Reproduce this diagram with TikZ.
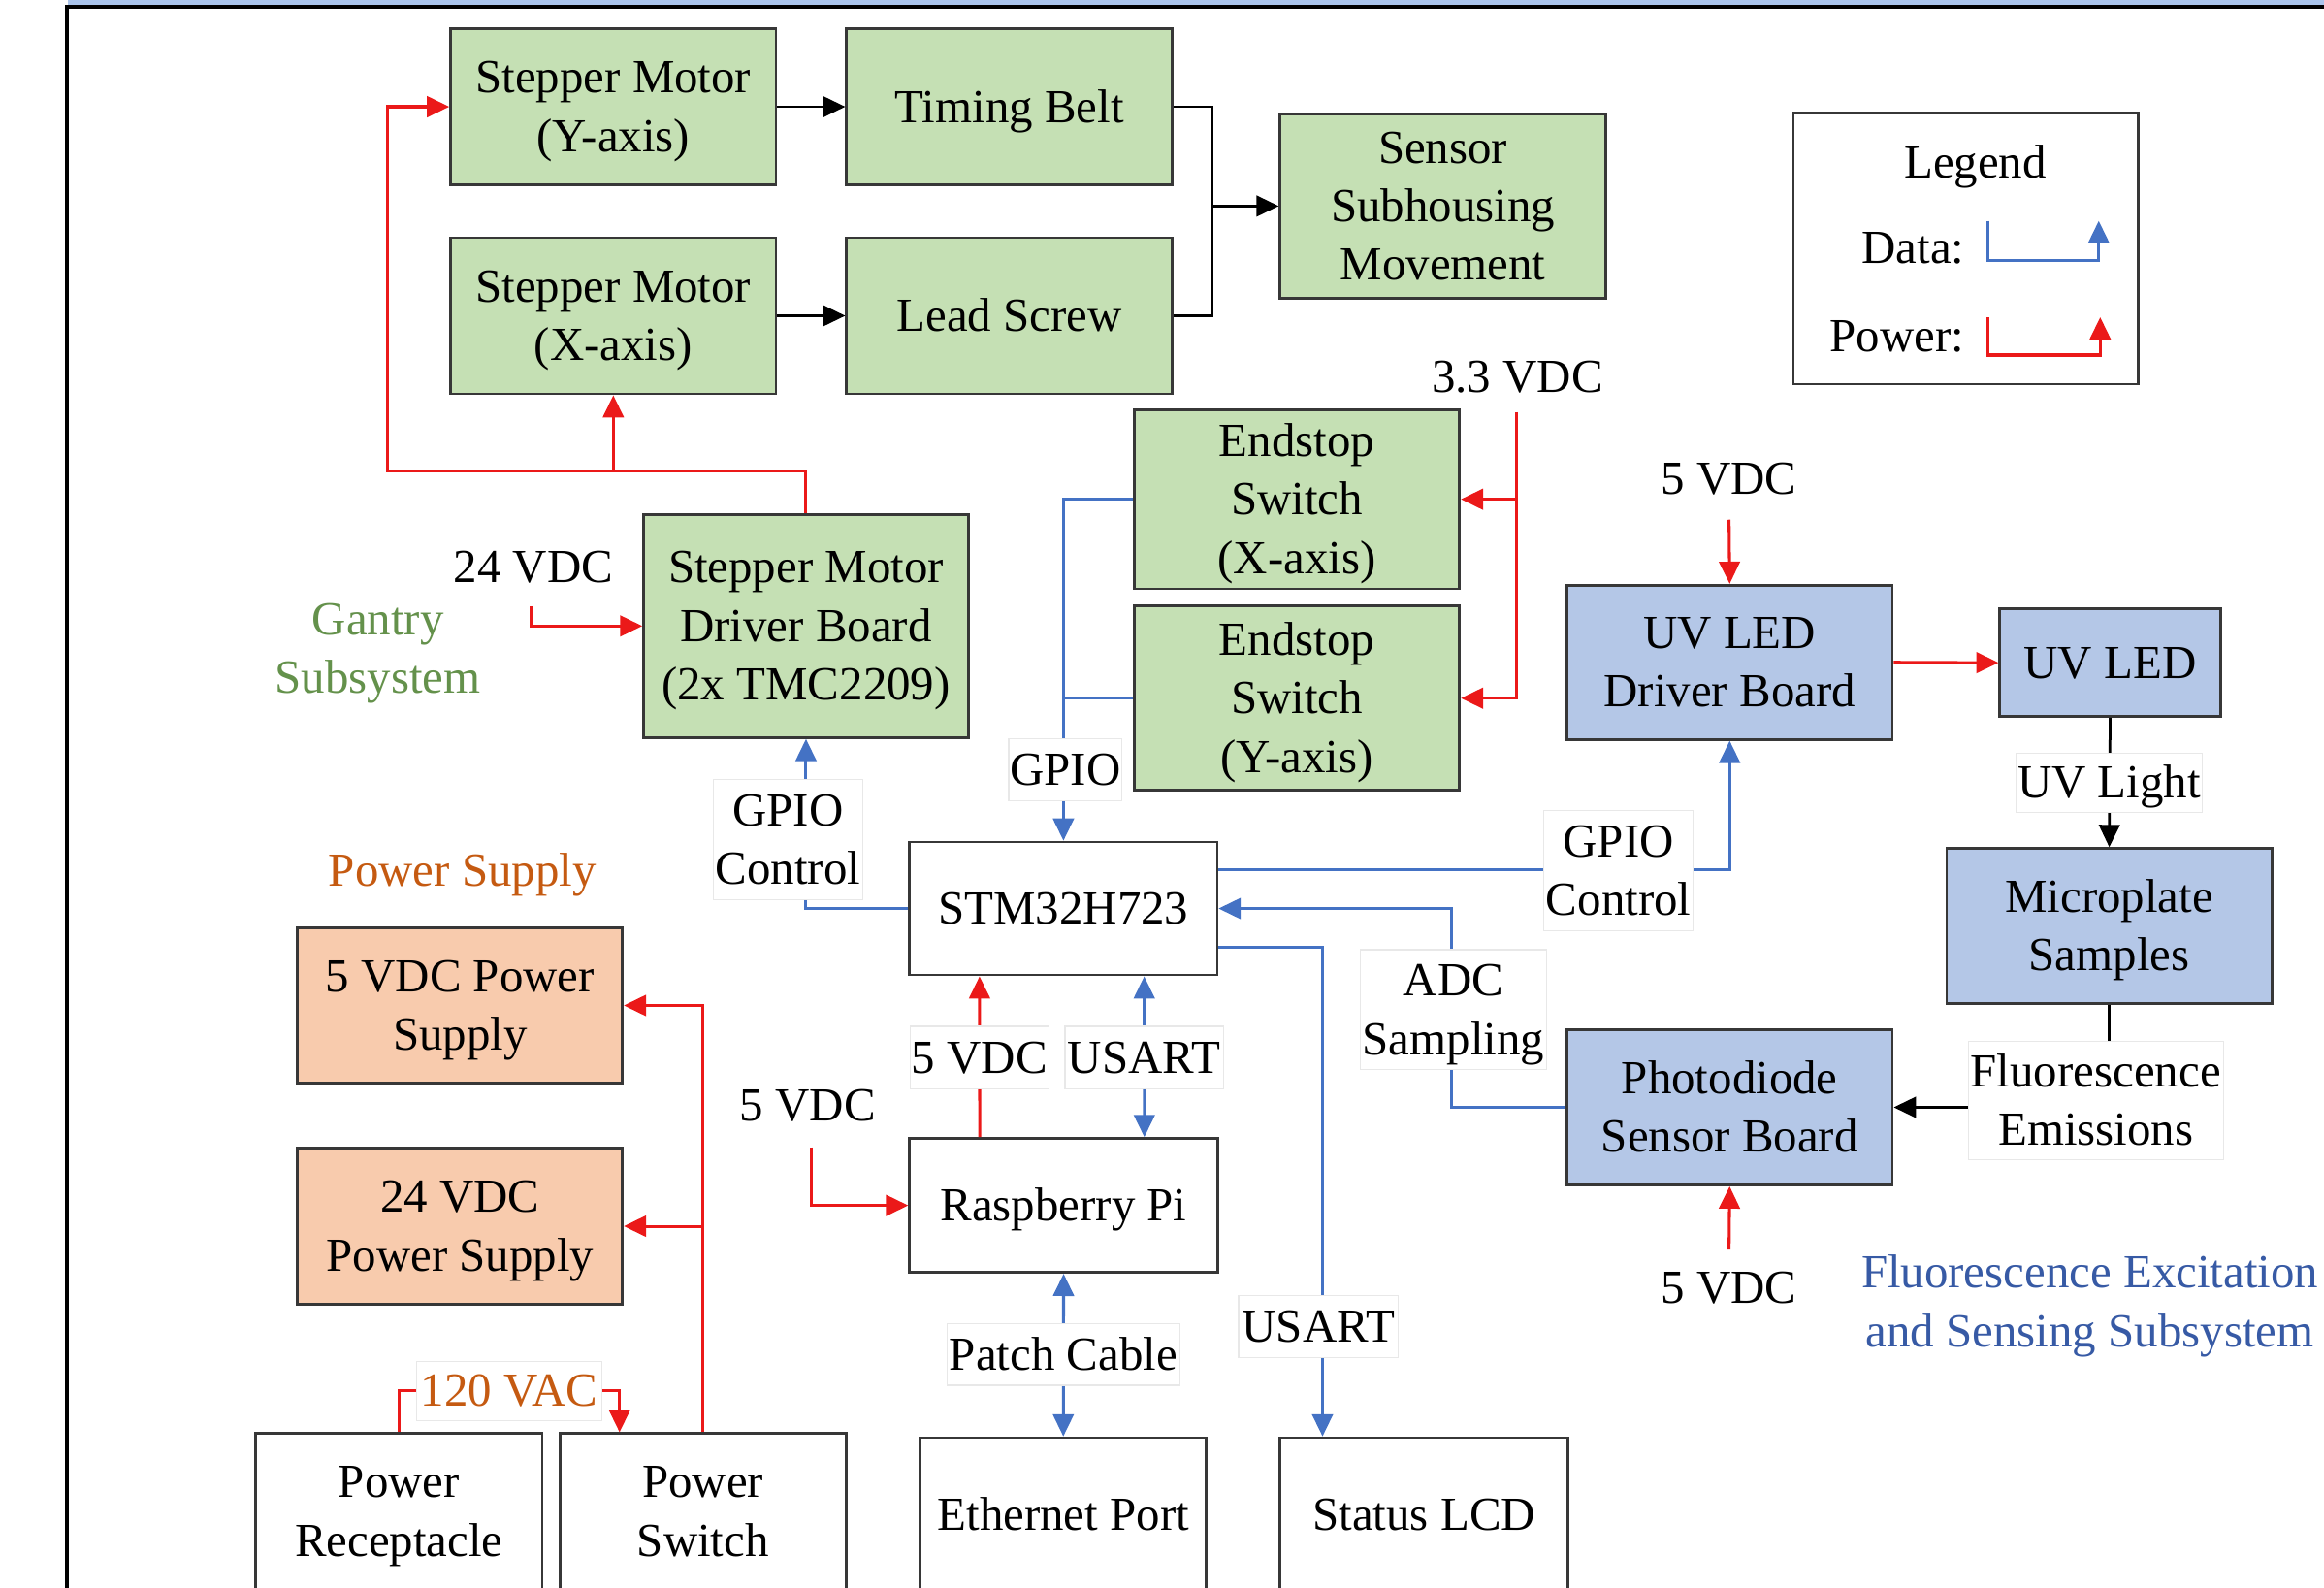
\documentclass[tikz,border=0pt]{standalone}
\usepackage{fontspec}
\setmainfont{Liberation Serif}
\usetikzlibrary{arrows.meta}
\definecolor{gfill}{RGB}{197,224,180}
\definecolor{bfill}{RGB}{180,199,231}
\definecolor{ofill}{RGB}{248,203,173}
\definecolor{boxln}{RGB}{55,55,55}
\definecolor{pwr}{RGB}{235,25,25}
\definecolor{dat}{RGB}{68,114,196}
\definecolor{gtxt}{RGB}{100,145,75}
\definecolor{otxt}{RGB}{197,90,17}
\definecolor{btxt}{RGB}{55,90,165}
\definecolor{band}{RGB}{170,196,236}
\definecolor{lblln}{RGB}{232,232,232}
\newcommand{\msz}{\fontsize{32}{39.5}\selectfont}
\newcommand{\bst}{\rule[-9pt]{0pt}{39pt}}
\begin{document}
\begin{tikzpicture}[x=1pt,y=-1pt,
  >={Triangle[length=15pt,width=14pt]},
  every node/.style={execute at begin node=\bst,execute at end node=\bst},
  box/.style={draw=boxln,line width=1.8pt,align=center,inner sep=0pt,font=\msz},
  gbox/.style={box,fill=gfill},
  bbox/.style={box,fill=bfill},
  obox/.style={box,fill=ofill},
  wbox/.style={box,fill=white},
  lbl/.style={fill=white,draw=lblln,line width=0.8pt,align=center,inner sep=0pt,font=\msz},
  txt/.style={align=center,inner sep=0pt,font=\msz},
  pw/.style={draw=pwr,line width=2pt,->},
  pwl/.style={draw=pwr,line width=2pt},
  dt/.style={draw=dat,line width=2pt,->},
  dtl/.style={draw=dat,line width=2pt},
  dtb/.style={draw=dat,line width=2pt,<->},
  blk/.style={draw=black,line width=1.8pt,->},
  blkl/.style={draw=black,line width=1.8pt}]
\useasboundingbox (0,0) rectangle (1568,1071);
% frame
\fill[band] (46,-5) rectangle (1575,3.5);
\draw[line width=2.6pt] (1575,4.5) -- (45,4.5) -- (45,1080);

% gantry boxes
\node[gbox,minimum width=219.6,minimum height=105] (smy) at (413.8,72) {\bst Stepper Motor\\(Y-axis)};
\node[gbox,minimum width=219.6,minimum height=105] (tb) at (681,72) {Timing Belt};
\node[gbox,minimum width=219.6,minimum height=105.5] (smx) at (413.8,213) {\bst Stepper Motor\\(X-axis)};
\node[gbox,minimum width=219.6,minimum height=105.5] (ls) at (681,213) {Lead Screw};
\node[gbox,minimum width=219.7,minimum height=124.6] (ssm) at (973.5,139) {\bst Sensor\\Subhousing\\Movement};
\node[gbox,minimum width=219.1,minimum height=150.6] (drv) at (543.8,422.3) {\bst Stepper Motor\\Driver Board\\(2x TMC2209)};
\node[gbox,minimum width=219.6,minimum height=120.7] (esx) at (875,336.8) {\bst Endstop\\Switch\\(X-axis)};
\node[gbox,minimum width=219.6,minimum height=124.2] (esy) at (875,471) {\bst Endstop\\Switch\\(Y-axis)};

% legend
\node[wbox,minimum width=232.5,minimum height=183] (leg) at (1326.2,167.6) {};
\node[txt] (legt) at (1332.7,109.5) {Legend};
\node[txt,anchor=east] (legd) at (1325.6,167) {Data:};
\node[txt,anchor=east] (legp) at (1325.6,227) {Power:};
\coordinate (ld1) at (1341,149);
\coordinate (ld2) at (1416,149);
\coordinate (lp1) at (1341.5,214);
\coordinate (lp2) at (1417,214);
\draw[dt] (ld1) -- (1341,176) -| (ld2);
\draw[pw] (lp1) -- (1341.5,239.5) -| (lp2);

% fluorescence boxes
\node[bbox,minimum width=219.6,minimum height=104] (uvd) at (1167,446.8) {\bst UV LED\\Driver Board};
\node[bbox,minimum width=148.8,minimum height=72.5] (uvl) at (1423.7,447.1) {UV LED};
\node[bbox,minimum width=219.5,minimum height=104.7] (mic) at (1423.1,624.7) {\bst Microplate\\Samples};
\node[bbox,minimum width=219.6,minimum height=104.9] (pd) at (1167,747) {\bst Photodiode\\Sensor Board};

% controller boxes
\node[wbox,minimum width=207.5,minimum height=89.7] (stm) at (717.5,612.9) {STM32H723};
\node[wbox,minimum width=207.9,minimum height=90.4] (rpi) at (717.6,813.2) {Raspberry Pi};
\node[wbox,minimum width=193.2,minimum height=104,anchor=north] (eth) at (717.4,969) {Ethernet Port};
\node[wbox,minimum width=194.2,minimum height=104,anchor=north] (lcd) at (960.8,969) {Status LCD};

% power boxes
\node[obox,minimum width=219.2,minimum height=105] (ps5) at (310.4,678.3) {\bst 5 VDC Power\\Supply};
\node[obox,minimum width=219.2,minimum height=105] (ps24) at (310.4,827.2) {\bst 24 VDC\\Power Supply};
\node[wbox,minimum width=193.2,minimum height=105,anchor=north] (prc) at (269.2,966.2) {\bst Power\\Receptacle};
\node[wbox,minimum width=193.2,minimum height=105,anchor=north] (psw) at (474.3,966.2) {\bst Power\\Switch};

% free texts
\node[txt] (v24) at (359.8,382.3) {24 VDC};
\node[txt,text=gtxt] (gan) at (255,437.5) {\bst Gantry\\Subsystem};
\node[txt] (v33) at (1023.9,254.4) {3.3 VDC};
\node[txt] (v5u) at (1166.6,323.2) {5 VDC};
\node[txt] (v5p) at (545,745.4) {5 VDC};
\node[txt] (v5d) at (1166.6,868.9) {5 VDC};
\node[txt,text=otxt] (pst) at (312,587) {Power Supply};
\node[txt,text=btxt] (fes) at (1410,878.2) {\bst Fluorescence Excitation\\and Sensing Subsystem};

% coordinates for free ends / junctions
\coordinate (mj) at (818,139);
\coordinate (gL) at (261.5,318);
\coordinate (v24s) at (358.2,409);
\coordinate (v33s) at (1023,278);
\coordinate (v5ps) at (547.5,774);
\coordinate (v5us) at (1166.6,350.6);
\coordinate (v5ds) at (1166.6,843);

% gantry connectors
\draw[blk] (smy.east) -- (tb.west);
\draw[blk] (smx.east) -- (ls.west);
\draw[blkl] (tb.east) -| (mj) |- (ls.east);
\draw[blk] (mj) -- (ssm.west);
\draw[pw] (drv.north) |- (gL) |- (smy.west);
\draw[pw] (smx.south |- gL) -- (smx.south);
\draw[pw] (v24s) |- (drv.west);

% endstops
\draw[pw] (v33s) |- (esx.east);
\draw[pw] (v33s) |- (esy.east);
\draw[dt] (esx.west) -| (stm.north);
\draw[dtl] (esy.west) -- (esy.west -| stm.north);

% STM32 connections
\draw[dt] (stm.west) -| (drv.south);
\draw[dt] ([yshift=26pt]stm.east) -| (uvd.south);
\draw[dt] (pd.west) -| (979.5,681) |- (stm.east);
\draw[dt] ([yshift=-26pt]stm.east) -| ([xshift=-68.5pt]lcd.north);
\draw[pw] ([xshift=-56.6pt]rpi.north) -- ([xshift=-56.6pt]stm.south);
\draw[dtb] ([xshift=54.5pt]rpi.north) -- ([xshift=54.5pt]stm.south);
\draw[pw] (v5ps) |- (rpi.west);
\draw[dtb] (rpi.south) -- (eth.north);

% power
\draw[pw] (psw.north) |- (ps5.east);
\draw[pw] (psw.north) |- (ps24.east);

% fluorescence
\draw[pw] (v5us) -- (uvd.north);
\draw[pw] (uvd.east) -- (uvl.west);
\draw[blk] (uvl.south) -- (mic.north);
\draw[pw] (v5ds) -- (pd.south);

% line labels
\node[lbl,minimum width=100.5,minimum height=81] (gpc1) at (531.7,566.5) {\bst GPIO\\Control};
\node[lbl,minimum width=76.4,minimum height=41.5] (gpio1) at (718.8,519.3) {GPIO};
\node[lbl,minimum width=101,minimum height=81.3] (gpc2) at (1092,587.4) {\bst GPIO\\Control};
\node[lbl,minimum width=125.4,minimum height=81] (adc) at (980.6,681.2) {\bst ADC\\Sampling};
\node[lbl,minimum width=107.6,minimum height=42] (us2) at (889.5,895) {USART};
\node[lbl,minimum width=93.6,minimum height=42] (v5pl) at (660.8,713.4) {5 VDC};
\node[lbl,minimum width=106.8,minimum height=42] (us1) at (771.9,713.4) {USART};
\node[lbl,minimum width=157,minimum height=41.5] (pat) at (717.5,913.7) {Patch Cable};
\node[lbl,minimum width=126,minimum height=40] (uvli) at (1423,528) {UV Light};
\node[lbl,minimum width=172,minimum height=80] (flu) at (1414,742.4) {\bst Fluorescence\\Emissions};
\node[lbl,minimum width=125,minimum height=40,text=otxt] (vac) at (343.5,938.3) {120 VAC};

% connectors attached to labels
\draw[blkl] (mic.south) -- (mic.south |- flu.north);
\draw[blk] (flu.west |- pd.east) -- (pd.east);
\draw[pwl] (prc.north) |- (vac.west);
\draw[pw] (vac.east) -| ([xshift=-56.3pt]psw.north);
\end{tikzpicture}
\end{document}
